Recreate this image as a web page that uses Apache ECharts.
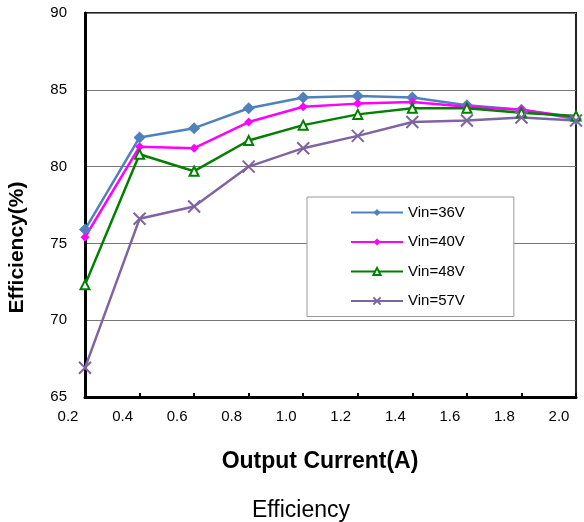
<!DOCTYPE html>
<html>
<head>
<meta charset="utf-8">
<script src="https://cdn.jsdelivr.net/npm/echarts@6/dist/echarts.min.js"></script>
<style>
html,body{margin:0;padding:0;background:#fff;}
#chart{width:584px;height:522px;}
</style>
</head>
<body>
<div id="chart"></div>
<script>
var xTickLabels = ['0.2','0.4','0.6','0.8','1.0','1.2','1.4','1.6','1.8','2.0'];
var seriesNames = ['Vin=36V','Vin=40V','Vin=48V','Vin=57V'];
var vin36 = [75.9, 81.9, 82.5, 83.8, 84.5, 84.6, 84.5, 84.0, 83.7, 83.1];
var vin40 = [75.4, 81.3, 81.2, 82.9, 83.9, 84.1, 84.2, 83.9, 83.7, 83.2];
var vin48 = [72.3, 80.8, 79.7, 81.7, 82.7, 83.4, 83.8, 83.8, 83.5, 83.3];
var vin57 = [66.9, 76.6, 77.4, 80.0, 81.2, 82.0, 82.9, 83.0, 83.2, 83.0];
var yMin = 65, yMax = 90, yStep = 5;

var FONT = 'Arial, "Liberation Sans", sans-serif';
var crossPath = 'path://M0,0L10,10M10,0L0,10';

var chart = echarts.init(document.getElementById('chart'), null, {renderer:'canvas'});
function lineSeries(name, data, color, symbol, size, extra) {
  var s = {
    name: name, type: 'line', data: data,
    symbol: symbol, symbolSize: size,
    lineStyle: {color: color, width: 2.5},
    itemStyle: {color: color},
    animation: false
  };
  if (extra) { for (var k in extra) s[k] = extra[k]; }
  return s;
}
chart.setOption({
  animation: false,
  backgroundColor: '#fff',
  textStyle: {fontFamily: FONT},
  grid: {left: 85, right: 8, top: 13, bottom: 125, show: true, borderColor: '#222', borderWidth: 2},
  legend: {
    orient: 'vertical', left: 307, top: 197,
    backgroundColor: '#fff', borderColor: '#999', borderWidth: 1,
    padding: [8, 49, 8, 43],
    itemWidth: 52, itemHeight: 9, itemGap: 14.5,
    textStyle: {fontSize: 15, color: '#000', fontFamily: FONT},
    data: seriesNames
  },
  xAxis: {
    type: 'category', data: xTickLabels, boundaryGap: false,
    axisLine: {lineStyle: {color: '#000', width: 3}},
    axisTick: {inside: true, length: 4, lineStyle: {color: '#000', width: 2}},
    axisLabel: {fontSize: 15, color: '#000', margin: 12, padding: [0, 34, 0, 0], fontFamily: FONT},
    splitLine: {show: false}
  },
  yAxis: {
    type: 'value', min: yMin, max: yMax, interval: yStep,
    axisLine: {show: true, lineStyle: {color: '#000', width: 3}},
    axisTick: {show: false},
    axisLabel: {fontSize: 15, color: '#000', margin: 18, fontFamily: FONT},
    splitLine: {lineStyle: {color: '#777', width: 1}}
  },
  graphic: [
    {type: 'text', style: {text: 'Output Current(A)', x: 320, y: 462, align: 'center', verticalAlign: 'middle', font: 'bold 23px ' + FONT, fill: '#000'}},
    {type: 'text', style: {text: 'Efficiency', x: 301, y: 511, align: 'center', verticalAlign: 'middle', font: '23px ' + FONT, fill: '#000'}},
    {type: 'text', x: 17.5, y: 247.5, rotation: Math.PI / 2, style: {text: 'Efficiency(%)', x: 0, y: 0, align: 'center', verticalAlign: 'middle', font: 'bold 21px ' + FONT, fill: '#000'}}
  ],
  series: [
    lineSeries(seriesNames[0], vin36, '#4F81BD', 'diamond', 12),
    lineSeries(seriesNames[1], vin40, '#FF00FF', 'diamond', 9),
    lineSeries(seriesNames[2], vin48, '#008000', 'emptyTriangle', 9, {itemStyle: {color: '#008000', borderColor: '#008000', borderWidth: 2}}),
    lineSeries(seriesNames[3], vin57, '#8064A2', crossPath, 12, {itemStyle: {color: '#8064A2', borderColor: '#8064A2', borderWidth: 2}})
  ]
});
</script>
</body>
</html>
